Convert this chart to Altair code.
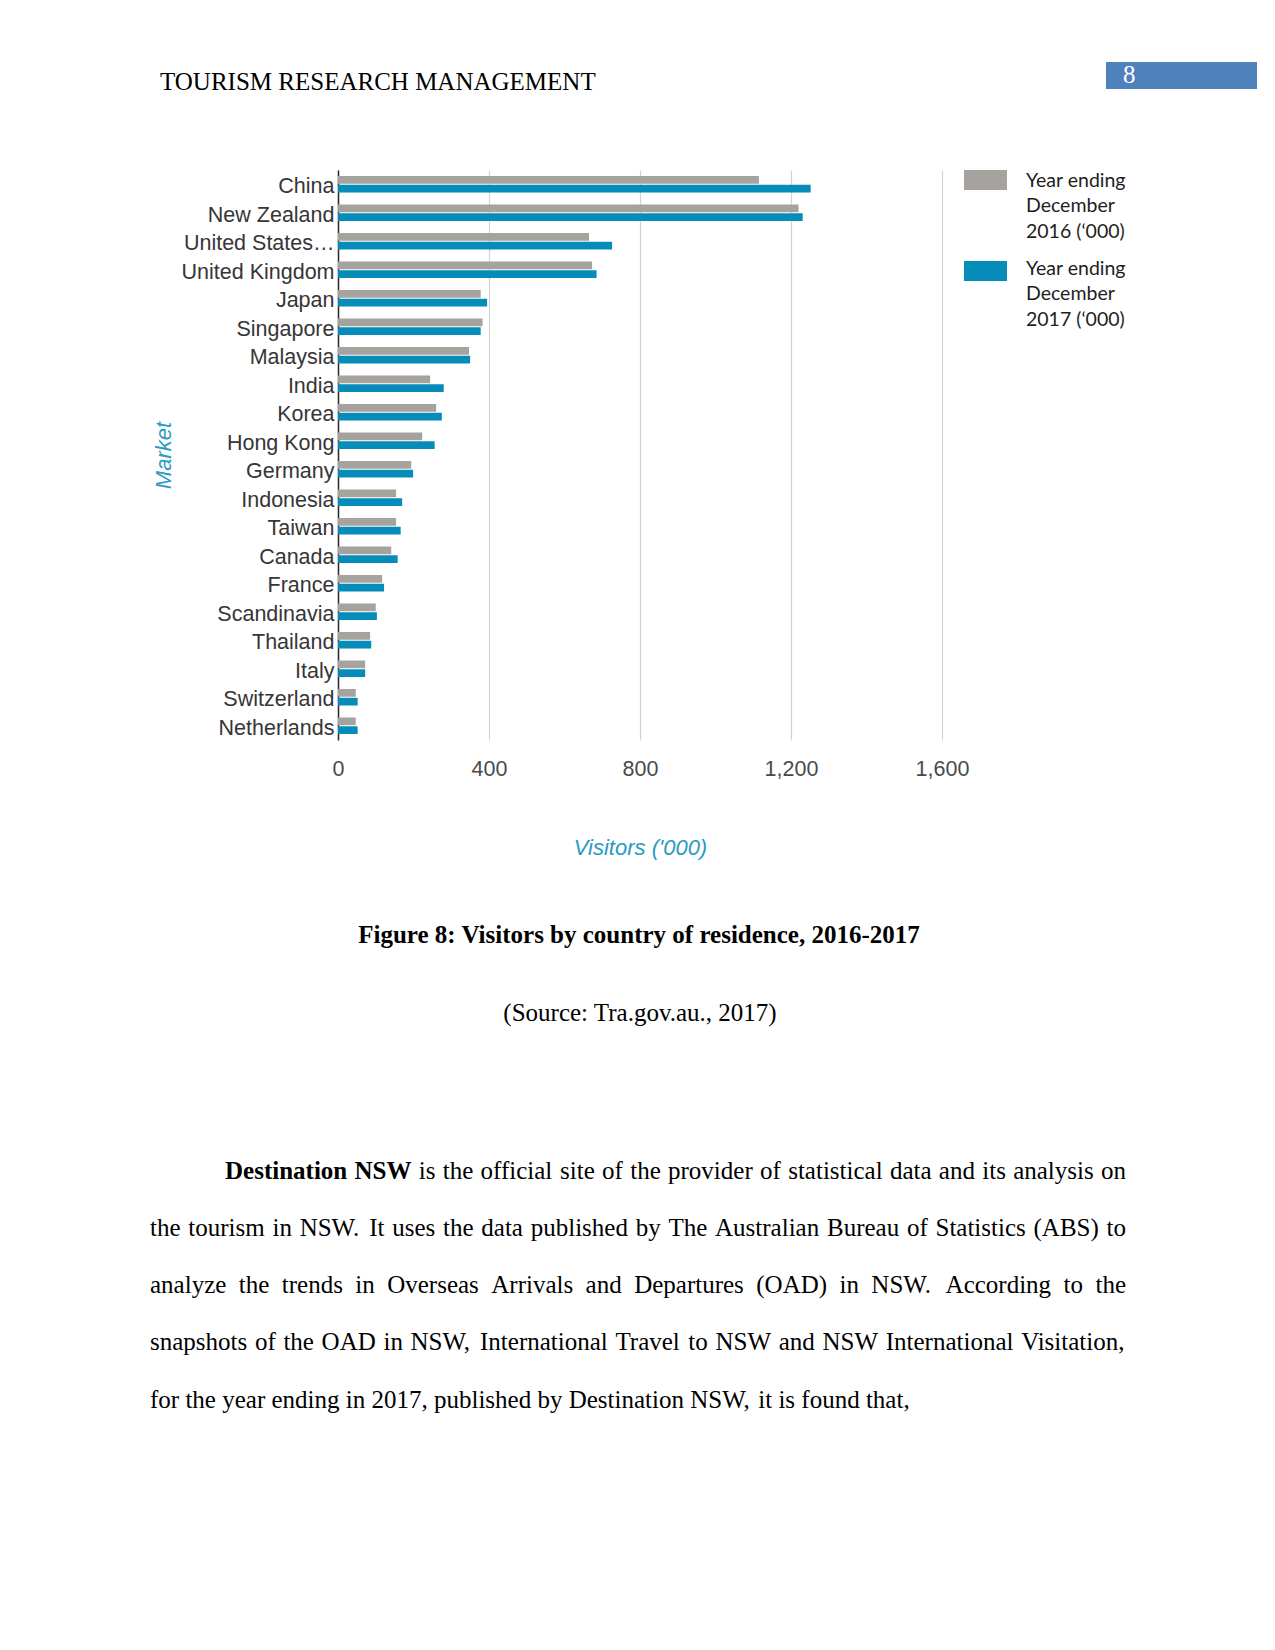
import altair as alt
import pandas as pd

# ---------------- data ----------------
markets = ["China", "New Zealand", "United States of America", "United Kingdom", "Japan",
           "Singapore", "Malaysia", "India", "Korea", "Hong Kong", "Germany", "Indonesia",
           "Taiwan", "Canada", "France", "Scandinavia", "Thailand", "Italy", "Switzerland",
           "Netherlands"]
visitors_2016 = [1115, 1220, 665, 673, 378, 383, 347, 244, 260, 223, 194, 154, 154, 141,
                 117, 100, 85, 72, 47, 47]
visitors_2017 = [1252, 1231, 726, 685, 395, 378, 350, 280, 275, 256, 199, 170, 166, 158,
                 122, 103, 88, 72, 52, 52]
series_names = ["Year ending December 2016 ('000)", "Year ending December 2017 ('000)"]
legend_labels = ["Year ending\nDecember\n2016 (\u2018000)", "Year ending\nDecember\n2017 (\u2018000)"]
x_ticks = [0, 400, 800, 1200, 1600]

header_text = "TOURISM RESEARCH MANAGEMENT"
page_number = "8"
caption_text = "Figure 8: Visitors by country of residence, 2016-2017"
source_text = "(Source: Tra.gov.au., 2017)"
body_lead = "Destination NSW"
body_lines = [
    "is the official site of the provider of statistical data and its analysis on",
    "the tourism in NSW. It uses the data published by The Australian Bureau of Statistics (ABS) to",
    "analyze the trends in Overseas Arrivals and Departures (OAD) in NSW. According to the",
    "snapshots of the OAD in NSW, International Travel to NSW and NSW International Visitation,",
    "for the year ending in 2017, published by Destination NSW, it is found that,",
]

GRAY = "#a6a29e"
TEAL = "#058cb9"
TITLE_TEAL = "#2b9ac4"
W, H = 604, 570

rows = []
for m, a, b in zip(markets, visitors_2016, visitors_2017):
    rows.append({"market": m, "series": series_names[0], "visitors": a})
    rows.append({"market": m, "series": series_names[1], "visitors": b})
df = pd.DataFrame(rows)
one = pd.DataFrame({"k": [0]})

# ---------------- bars ----------------
bars = alt.Chart(df).mark_bar().encode(
    x=alt.X("visitors:Q",
            scale=alt.Scale(domain=[0, 1600], nice=False, zero=True),
            axis=alt.Axis(values=x_ticks, format=",d", grid=True, gridColor="#d3d3d3",
                          gridWidth=1.2, domain=False, ticks=False, labelFlush=False,
                          labelFont="Liberation Sans", labelFontSize=21.5, labelColor="#4a4a4a",
                          labelPadding=18,
                          title="Visitors ('000)", titleFont="Liberation Sans", titleFontSize=22,
                          titleFontStyle="italic", titleFontWeight="normal",
                          titleColor=TITLE_TEAL, titleY=107, titleBaseline="middle")),
    y=alt.Y("market:N", sort=markets,
            scale=alt.Scale(paddingInner=0.42, paddingOuter=0.21),
            axis=alt.Axis(domain=True, domainColor="#2a2a2a", domainWidth=1.5, ticks=False,
                          grid=False, labelFont="Liberation Sans", labelFontSize=21.5,
                          labelColor="#363636", labelPadding=4, labelLimit=300, labelOffset=3,
                          labelExpr="datum.label == 'United States of America' ? 'United States\u2026' : datum.label",
                          title="Market", titleFont="Liberation Sans", titleFontSize=22,
                          titleFontStyle="italic", titleFontWeight="normal",
                          titleColor=TITLE_TEAL, titleAngle=270, titleX=-175, titleY=285,
                          titleAlign="center", titleBaseline="middle")),
    yOffset=alt.YOffset("series:N", sort=series_names, scale=alt.Scale(paddingInner=0.12)),
    color=alt.Color("series:N", scale=alt.Scale(domain=series_names, range=[GRAY, TEAL]),
                    legend=None),
)

# ---------------- legend ----------------
def swatch(color, y0):
    return alt.Chart(one).mark_rect(color=color).encode(
        x=alt.value(626), x2=alt.value(669), y=alt.value(y0), y2=alt.value(y0 + 20))

def ltext(s, y):
    return alt.Chart(one).mark_text(text=s, align="left", baseline="middle", lineBreak="\n",
                                    lineHeight=25.3, font="Lato", fontSize=19.5,
                                    color="#1e1e1e").encode(x=alt.value(688), y=alt.value(y))

legend = [swatch(GRAY, 0), swatch(TEAL, 91), ltext(legend_labels[0], 11), ltext(legend_labels[1], 99)]

# ---------------- page text ----------------
def txt(s, x, y, size=25, weight="normal", align="left", color="#000000", font="Liberation Serif"):
    return alt.Chart(one).mark_text(text=s, align=align, baseline="middle", font=font,
                                    fontSize=size, fontWeight=weight, color=color).encode(
        x=alt.value(x), y=alt.value(y))

header_box = alt.Chart(one).mark_rect(color="#4f81bd").encode(
    x=alt.value(768), x2=alt.value(919), y=alt.value(-108), y2=alt.value(-81))

page = [
    txt(header_text, -178, -88),
    header_box,
    txt(page_number, 785, -95, size=25, color="#ffffff"),
    txt(caption_text, 301, 765, weight="bold", align="center"),
    txt(source_text, 302, 843, align="center"),
]

# ---- justified body text (Times metrics, 1/1000 em) ----
TIMES = {" ": 250, "(": 333, ")": 333, ",": 250, "-": 333, ".": 250, ":": 278,
         "A": 722, "B": 667, "C": 667, "D": 722, "E": 611, "F": 556, "G": 722, "H": 722,
         "I": 333, "J": 389, "K": 722, "L": 611, "M": 889, "N": 722, "O": 722, "P": 556,
         "Q": 722, "R": 667, "S": 556, "T": 611, "U": 722, "V": 722, "W": 944, "X": 722,
         "Y": 722, "Z": 611,
         "a": 444, "b": 500, "c": 444, "d": 500, "e": 444, "f": 333, "g": 500, "h": 500,
         "i": 278, "j": 278, "k": 500, "l": 278, "m": 778, "n": 500, "o": 500, "p": 500,
         "q": 500, "r": 333, "s": 389, "t": 278, "u": 500, "v": 500, "w": 722, "x": 500,
         "y": 500, "z": 444}
TIMES_BOLD = {"D": 722, "N": 722, "S": 556, "W": 1000, "a": 500, "e": 444, "i": 278,
              "n": 556, "o": 500, "s": 389, "t": 333}
FS = 25

def wwidth(s, bold):
    tab = TIMES_BOLD if bold else TIMES
    return sum(tab.get(c, TIMES.get(c, 500)) for c in s) * FS / 1000.0

LEFT, RIGHT, INDENT = -188, 788, -113
line_y = [1001, 1058, 1115, 1172, 1230]

words = []
for i, line in enumerate(body_lines):
    tokens = [(w, False) for w in line.split()]
    x0 = LEFT
    if i == 0:
        tokens = [(w, True) for w in body_lead.split()] + tokens
        x0 = INDENT
    widths = [wwidth(w, b) for w, b in tokens]
    if i < len(body_lines) - 1:
        gap = (RIGHT - x0 - sum(widths)) / (len(tokens) - 1)
    else:
        gap = TIMES[" "] * FS / 1000.0
    x = x0
    for (w, b), wd in zip(tokens, widths):
        words.append({"word": w, "x": x, "y": line_y[i], "bold": b})
        x += wd + gap
words_df = pd.DataFrame(words)

def word_layer(bold):
    return alt.Chart(words_df).transform_filter(
        "datum.bold" if bold else "!datum.bold"
    ).mark_text(align="left", baseline="middle", font="Liberation Serif", fontSize=FS,
                fontWeight="bold" if bold else "normal", color="#000000").encode(
        x=alt.X("x:Q", scale=None, axis=None),
        y=alt.Y("y:Q", scale=None, axis=None),
        text="word:N")

chart = alt.layer(
    bars, *legend, *page, word_layer(False), word_layer(True)
).resolve_scale(
    x="independent", y="independent"
).properties(
    width=W, height=H,
    autosize=alt.AutoSizeParams(type="none"),
    padding={"left": 330, "top": 162, "right": 320, "bottom": 880},
    background="white",
).configure_view(stroke=None)

chart.save("out.html", embed_options={"renderer": "svg", "actions": False})
